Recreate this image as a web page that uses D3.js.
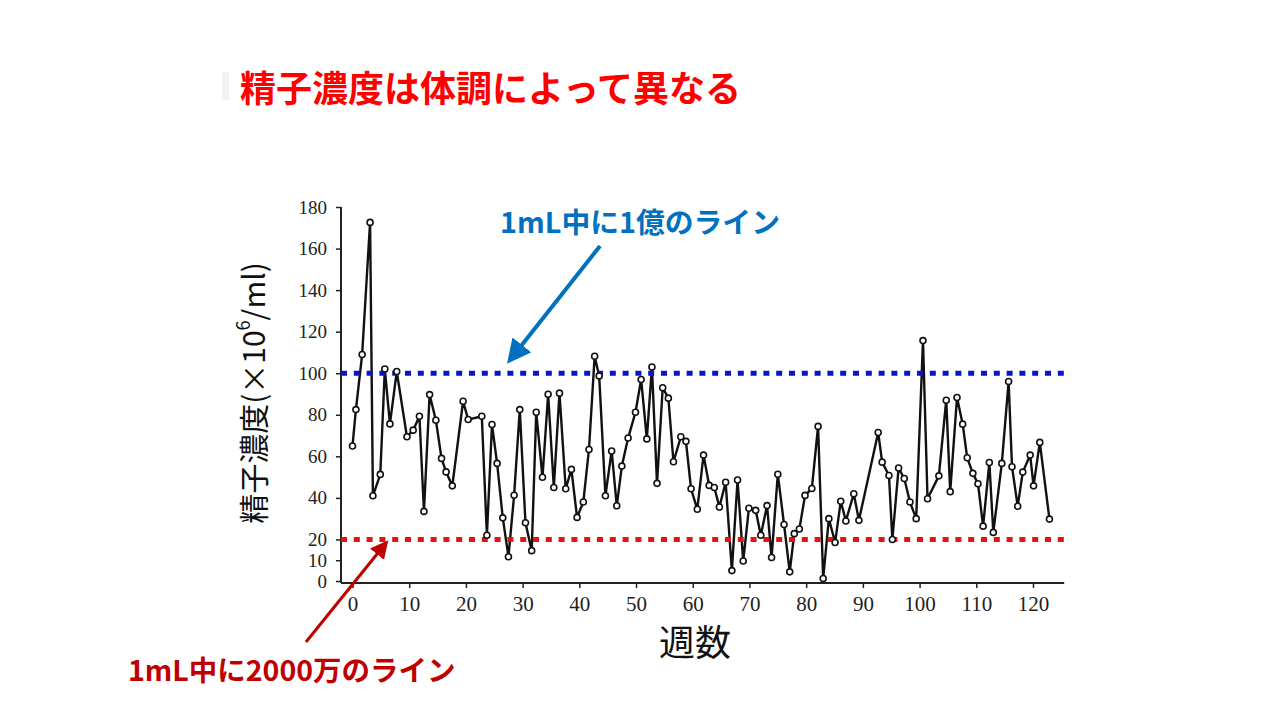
<!DOCTYPE html>
<html><head><meta charset="utf-8">
<script src="https://cdn.jsdelivr.net/npm/d3@7"></script>
<style>
html,body{margin:0;padding:0;background:#fff;}
svg{display:block;}
</style>
</head><body>
<svg id="chart" width="1280" height="720"></svg>
<script>
// ---- data ----
const weeks = [0,0.6,1.7,3.1,3.6,4.9,5.7,6.6,7.8,9.6,10.7,11.8,12.6,13.6,14.7,15.7,16.5,17.6,19.5,20.4,
  22.8,23.7,24.6,25.5,26.5,27.5,28.5,29.5,30.5,31.6,32.4,33.5,34.5,35.5,36.5,37.6,38.6,39.6,40.7,41.7,
  42.7,43.5,44.6,45.7,46.6,47.5,48.6,49.9,50.9,51.9,52.8,53.7,54.7,55.7,56.6,57.9,58.8,59.7,60.8,61.9,
  62.9,63.8,64.7,65.8,66.9,67.9,68.9,69.9,71.1,72.0,73.1,73.9,75.0,76.1,77.1,77.9,78.8,79.8,81.0,82.1,
  83.0,84.0,85.1,86.1,87.0,88.4,89.3,92.7,93.4,94.6,95.2,96.3,97.3,98.3,99.4,100.6,101.4,103.4,104.7,105.4,
  106.6,107.6,108.4,109.4,110.3,111.2,112.3,113.0,114.5,115.7,116.3,117.3,118.2,119.5,120.1,121.2,122.9];
const concentration = [65,82.5,109,172.6,41,51.3,102,75.6,100.8,69.4,72.6,79.3,33.5,89.7,77.4,59,52.5,45.8,86.5,77.7,
  79.3,22,75.3,56.6,30.4,11.7,41.3,82.5,28,14.6,81.2,49.9,89.9,45,90.4,44.4,53.7,30.6,38,63.3,
  108.2,98.7,41,62.6,36.2,55.3,68.8,81.2,97,68.4,103,47,93,88,57.4,69.4,67.2,44.4,34.5,60.6,
  46,45,35.6,47.5,5,48.6,9.6,35,34,22,36.3,11.3,51.4,27.2,4.4,22.8,25,41.2,44.5,74.4,
  1.2,30,18.5,38.4,28.9,42,29.2,71.5,57.2,50.8,20,54.4,49.3,38,30,115.7,39.6,50.6,87,43,
  88.3,75.5,59.3,51.8,46.8,26.4,57,23.4,56.6,96,55,36,52.4,60.6,45.8,66.7,29.8];
const yTickValues = [0,10,20,40,60,80,100,120,140,160,180];
const xTickValues = [0,10,20,30,40,50,60,70,80,90,100,110,120];
const refLines = [100, 20];
const titleText = "精子濃度は体調によって異なる";
const upperNote = "1mL中に1億のライン";
const lowerNote = "1mL中に2000万のライン";
const yLabelMain = "精子濃度(×10";
const yLabelSup = "6";
const yLabelTail = "/ml)";
const xLabel = "週数";

// ---- drawing ----
const svg = d3.select("#chart");
const x = d3.scaleLinear().domain([0,120]).range([352.5,1033]);
const y = d3.scaleLinear().domain([0,180]).range([581,207]);
const serif = "'Liberation Serif','DejaVu Serif',serif";
const cjk = "'Noto Sans CJK JP','Noto Sans',sans-serif";

const defs = svg.append("defs");
function marker(id,color){
  defs.append("marker").attr("id",id).attr("viewBox","0 0 10 10")
    .attr("refX",8).attr("refY",5).attr("markerWidth",6).attr("markerHeight",6)
    .attr("orient","auto-start-reverse")
    .append("path").attr("d","M0,0 L10,5 L0,10 Z").attr("fill",color);
}
marker("ab","#0070C0");
marker("ar","#C00000");

// title
svg.append("rect").attr("x",222).attr("y",72).attr("width",7).attr("height",28).attr("fill","#f2f2f2");
svg.append("text").attr("x",240).attr("y",86).attr("dominant-baseline","central")
  .attr("font-family",cjk).attr("font-weight","bold").attr("font-size",36).attr("fill","#FF0000")
  .text(titleText);

// axes
const yAxis = d3.axisLeft(y).tickValues(yTickValues).tickSize(5).tickPadding(9);
const gy = svg.append("g").attr("transform","translate(341,0)").call(yAxis);
gy.select(".domain").remove();
gy.selectAll("text").attr("font-family",serif).attr("font-size",19).attr("fill","#222");
gy.selectAll("line").attr("stroke","#222").attr("stroke-width",1.5);
svg.append("line").attr("x1",341).attr("x2",341).attr("y1",y(180)).attr("y2",y(0)+2)
  .attr("stroke","#222").attr("stroke-width",2);

const xAxis = d3.axisBottom(x).tickValues(xTickValues).tickSize(5).tickPadding(8);
const gx = svg.append("g").attr("transform",`translate(0,${y(0)+2})`).call(xAxis);
gx.select(".domain").remove();
gx.selectAll("text").attr("font-family",serif).attr("font-size",21).attr("fill","#222");
gx.selectAll("line").attr("stroke","#222").attr("stroke-width",1.5);
svg.append("line").attr("x1",341).attr("x2",x(125.5)).attr("y1",y(0)+2).attr("y2",y(0)+2)
  .attr("stroke","#222").attr("stroke-width",2);

// data line
const line = d3.line().x((d,i)=>x(weeks[i])).y(d=>y(d));
svg.append("path").datum(concentration).attr("d",line)
  .attr("fill","none").attr("stroke","#111").attr("stroke-width",2.4).attr("stroke-linejoin","round");

// reference lines
const refColors = ["#0a14c8","#e01414"];
svg.selectAll(".ref").data(refLines).enter().append("line")
  .attr("x1",341).attr("x2",x(125.5))
  .attr("y1",d=>y(d)).attr("y2",d=>y(d))
  .attr("stroke",(d,i)=>refColors[i]).attr("stroke-width",5).attr("stroke-dasharray","6,6.8");

// points
svg.selectAll(".pt").data(concentration).enter().append("circle")
  .attr("cx",(d,i)=>x(weeks[i])).attr("cy",d=>y(d)).attr("r",3)
  .attr("fill","#fff").attr("stroke","#111").attr("stroke-width",1.6);

// axis labels
const yl = svg.append("text").attr("transform","translate(252,393) rotate(-90)")
  .attr("text-anchor","middle").attr("dominant-baseline","central")
  .attr("font-family",cjk).attr("font-size",30).attr("fill","#111");
yl.append("tspan").text(yLabelMain);
yl.append("tspan").attr("dy",-10).attr("font-size",18).text(yLabelSup);
yl.append("tspan").attr("dy",10).text(yLabelTail);

svg.append("text").attr("x",695).attr("y",640).attr("text-anchor","middle").attr("dominant-baseline","central")
  .attr("font-family",cjk).attr("font-size",36).attr("fill","#111").text(xLabel);

// annotations
svg.append("text").attr("x",500).attr("y",220).attr("dominant-baseline","central")
  .attr("font-family",cjk).attr("font-weight","bold").attr("font-size",28.8).attr("fill","#0070C0")
  .text(upperNote);
svg.append("line").attr("x1",600).attr("y1",246).attr("x2",510).attr("y2",360)
  .attr("stroke","#0070C0").attr("stroke-width",4).attr("marker-end","url(#ab)");

svg.append("text").attr("x",128).attr("y",668).attr("dominant-baseline","central")
  .attr("font-family",cjk).attr("font-weight","bold").attr("font-size",28.5).attr("fill","#C00000")
  .text(lowerNote);
svg.append("line").attr("x1",306).attr("y1",642).attr("x2",386).attr("y2",543)
  .attr("stroke","#C00000").attr("stroke-width",3).attr("marker-end","url(#ar)");
</script>
</body></html>
